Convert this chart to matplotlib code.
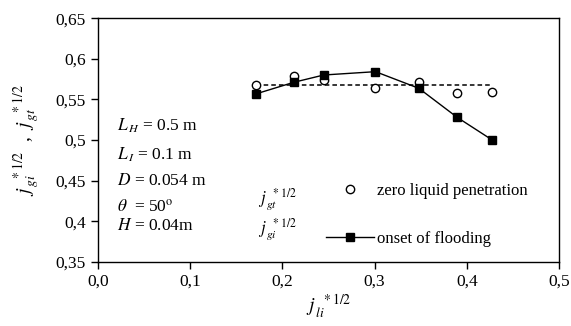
import numpy as np
import matplotlib
matplotlib.use('Agg')
import matplotlib.pyplot as plt
from matplotlib.ticker import FuncFormatter

# datos
x_vals = [0.171, 0.2124, 0.2449, 0.301, 0.348, 0.3896, 0.4276]
y_zero = [0.5678, 0.5792, 0.5739, 0.5637, 0.5718, 0.5575, 0.5595]   # zero liquid penetration
y_flood = [0.5567, 0.5711, 0.5801, 0.5842, 0.5637, 0.5279, 0.500]   # onset of flooding

x_ticks = [0.0, 0.1, 0.2, 0.3, 0.4, 0.5]
y_ticks = [0.35, 0.40, 0.45, 0.50, 0.55, 0.60, 0.65]

params = [r'$L_{\,H}$ = 0.5 m', r'$L_{\,I}$ = 0.1 m', r'$D$ = 0.054 m',
          r'$\theta$  = 50$^{\rm o}$', r'$H$ = 0.04m']
param_y = [0.5172, 0.4815, 0.450, 0.4177, 0.394]

plt.rcParams['font.family'] = ['Liberation Serif', 'DejaVu Serif']
plt.rcParams['mathtext.fontset'] = 'stix'
plt.rcParams['font.size'] = 12

fig = plt.figure(figsize=(5.71, 3.26), dpi=100)
ax = fig.add_axes([0.1715, 0.197, 0.8075, 0.747])

# valor medio de zero liquid penetration (linea punteada)
media = np.mean(y_zero)
ax.plot([min(x_vals), max(x_vals)], [media, media], color='black', linestyle=(0, (3, 2)),
        linewidth=1.1, zorder=1)

ax.plot(x_vals, y_zero, linestyle='none', marker='o', markersize=6,
        markerfacecolor='white', markeredgecolor='black', markeredgewidth=1.0,
        label='zero liquid penetration', zorder=2)
ax.plot(x_vals, y_flood, color='black', linewidth=1.0, marker='s', markersize=6.3,
        markerfacecolor='black', label='onset of flooding', zorder=3)

ax.set_xlim(0, 0.5)
ax.set_ylim(0.35, 0.65)
ax.set_xticks(x_ticks)
ax.set_yticks(y_ticks)
ax.xaxis.set_major_formatter(FuncFormatter(lambda v, p: ('%.1f' % v).replace('.', ',')))
ax.yaxis.set_major_formatter(FuncFormatter(lambda v, p: ('%g' % round(v, 2)).replace('.', ',')))
ax.tick_params(direction='out', length=5, width=1, labelsize=12.5, top=False, right=False)
for s in ax.spines.values():
    s.set_linewidth(1.0)

ax.set_xlabel(r'$j_{\,li}^{\;\;*1/2}$', fontsize=14, labelpad=2)
ax.set_ylabel(r'$j_{\,gi}^{\;\;*1/2}$  ,  $j_{\,gt}^{\;\;*1/2}$', fontsize=14, labelpad=10)

for txt, yy in zip(params, param_y):
    ax.text(0.0208, yy, txt, fontsize=12.5, va='center', ha='left')

fig.text(258 / 571, 1 - 200 / 326, r'$j_{\,gt}^{\;\;*1/2}$', fontsize=12, va='center', ha='left')
fig.text(258 / 571, 1 - 230 / 326, r'$j_{\,gi}^{\;\;*1/2}$', fontsize=12, va='center', ha='left')

ax.legend(loc='center left', bbox_to_anchor=(326 / 571, 1 - 215 / 326), bbox_transform=fig.transFigure,
          frameon=False, fontsize=12, handlelength=2.9, handletextpad=0.15, labelspacing=1.9,
          borderpad=0, borderaxespad=0)

plt.savefig('out.png', dpi=100)
